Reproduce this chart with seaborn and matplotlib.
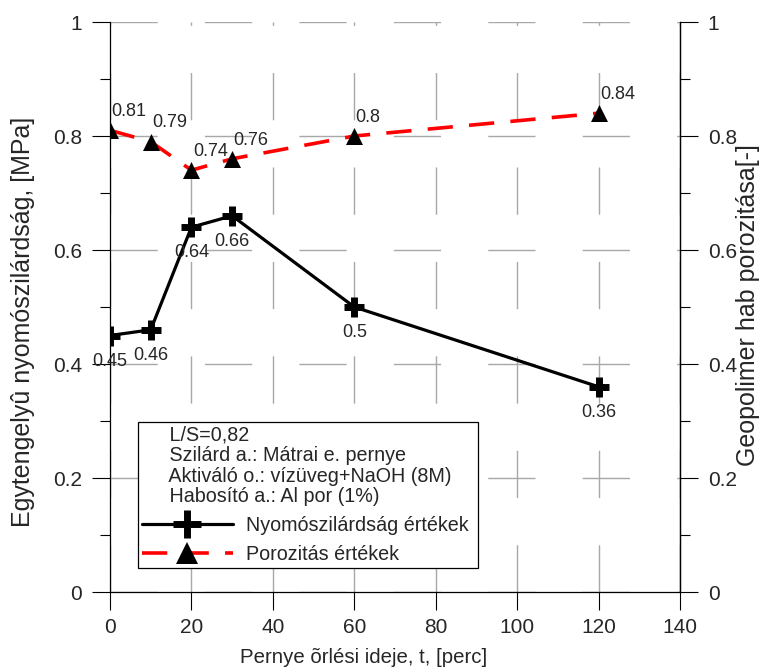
import matplotlib
matplotlib.use("Agg")
import matplotlib.pyplot as plt
from matplotlib.lines import Line2D
from matplotlib.ticker import MultipleLocator
from matplotlib import font_manager
import seaborn as sns

# ---- data ----
grind_time = [0, 10, 20, 30, 60, 120]
strength = [0.45, 0.46, 0.64, 0.66, 0.50, 0.36]
porosity = [0.81, 0.79, 0.74, 0.76, 0.80, 0.84]
strength_labels = ["0.45", "0.46", "0.64", "0.66", "0.5", "0.36"]
porosity_labels = ["0.81", "0.79", "0.74", "0.76", "0.8", "0.84"]
x_ticks = [0, 20, 40, 60, 80, 100, 120, 140]
y_ticks = [0, 0.2, 0.4, 0.6, 0.8, 1]
y_tick_labels = ["0", "0.2", "0.4", "0.6", "0.8", "1"]
xlabel = "Pernye õrlési ideje, t, [perc]"
ylabel_left = "Egytengelyû nyomószilárdság, [MPa]"
ylabel_right = "Geopolimer hab porozitása[-]"
legend_title = ("     L/S=0,82\n     Szilárd a.: Mátrai e. pernye\n"
                "     Aktiváló o.: vízüveg+NaOH (8M)\n     Habosító a.: Al por (1%)")
label_strength = "Nyomószilárdság értékek "
label_porosity = "Porozitás értékek"

sns.set_style("ticks")
plt.rcParams["font.family"] = ["Liberation Sans", "DejaVu Sans"]
plt.rcParams["axes.unicode_minus"] = False

names = {f.name for f in font_manager.fontManager.ttflist}
if "Liberation Sans Narrow" in names:
    tick_font = dict(family="Liberation Sans Narrow", size=17.5)
else:
    tick_font = dict(family="Liberation Sans", size=15)

fig = plt.figure(figsize=(7.67, 6.67), dpi=100)
ax = fig.add_axes([110 / 767, 1 - 592 / 667, 570 / 767, 570 / 667])
ax2 = ax.twinx()

# grid
ax.set_axisbelow(True)
ax.grid(True, which="major", color="#a8a8a8", linewidth=1.0,
        linestyle=(0, (34, 34)))

# strength (left axis)
sns.lineplot(x=grind_time, y=strength, ax=ax, color="black", linewidth=2.3,
             marker="+", markersize=15, markeredgewidth=5,
             markeredgecolor="black", markerfacecolor="black", zorder=4,
             estimator=None, sort=False)
# porosity (right axis)
sns.lineplot(x=grind_time, y=porosity, ax=ax2, color="red", linewidth=2.6,
             linestyle=(0, (7, 4.5)), zorder=4, estimator=None, sort=False)
sns.scatterplot(x=grind_time, y=porosity, ax=ax2, color="black", marker="^",
                s=150, linewidth=0, zorder=5)

for xv, yv, t in zip(grind_time, strength, strength_labels):
    ax.annotate(t, (xv, yv), xytext=(0, -18.5), textcoords="offset points",
                ha="center", va="center", fontsize=13, zorder=6)
for xv, yv, t in zip(grind_time, porosity, porosity_labels):
    ax2.annotate(t, (xv, yv), xytext=(1, 13.5), textcoords="offset points",
                 ha="left", va="center", fontsize=13, zorder=6)

for a in (ax, ax2):
    a.set_xlim(0, 140)
    a.set_ylim(0, 1)
    a.set_yticks(y_ticks)
    a.set_yticklabels(y_tick_labels, fontdict=tick_font)
    a.yaxis.set_minor_locator(MultipleLocator(0.1))
    a.tick_params(axis="y", which="major", length=13, width=0.8,
                  direction="out", pad=7, color="black")
    a.tick_params(axis="y", which="minor", length=7, width=0.8,
                  direction="out", color="black")
    for s in a.spines.values():
        s.set_color("black")
        s.set_linewidth(0.9)

ax.set_xticks(x_ticks)
ax.set_xticklabels([str(v) for v in x_ticks], fontdict=tick_font)
ax.tick_params(axis="x", which="major", length=13, width=0.8,
               direction="out", pad=6, color="black")
ax.spines["top"].set_visible(False)
ax2.spines["top"].set_visible(False)
ax2.spines["left"].set_visible(False)
ax2.spines["bottom"].set_visible(False)

ax.set_xlabel(xlabel, fontsize=14.7)
ax.xaxis.set_label_coords((364 - 110) / 570, -0.098)
ax.set_ylabel(ylabel_left, fontsize=18)
ax.yaxis.set_label_coords((35 - 110) / 570, 0.474)
ax2.set_ylabel(ylabel_right, fontsize=18)
ax2.yaxis.set_label_coords((736 - 110) / 570, 0.503)

handles = [
    Line2D([], [], color="black", linewidth=2.3, marker="+", markersize=15,
           markeredgewidth=5),
    Line2D([], [], color="red", linewidth=2.6, linestyle=(0, (7, 4.5)),
           marker="^", markersize=12, markerfacecolor="black",
           markeredgecolor="black", markeredgewidth=0),
]
leg = ax.legend(handles, [label_strength, label_porosity], title=legend_title,
                loc="lower left", bbox_to_anchor=(0.049, 0.042),
                borderaxespad=0, fontsize=14.2, title_fontsize=14.2,
                handlelength=4.6, handletextpad=0.7, borderpad=0.2,
                labelspacing=0.5, markerscale=1.35, fancybox=False,
                framealpha=1, edgecolor="black")
leg.get_frame().set_linewidth(0.9)
leg._legend_box.align = "left"
leg.get_title().set_multialignment("left")
leg.get_title().set_linespacing(1.1)
leg.set_zorder(10)

fig.savefig("out.png", dpi=100)
